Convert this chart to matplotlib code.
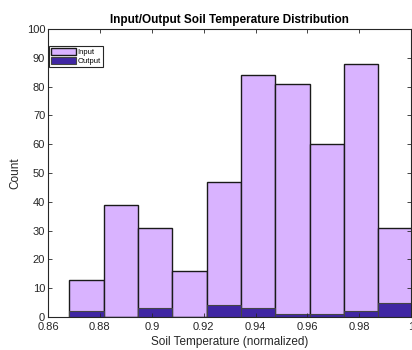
import numpy as np
import matplotlib.pyplot as plt

plt.rcParams['font.family'] = ['Liberation Sans', 'DejaVu Sans']

# === DATA ===
bin_start = 0.8682
bin_width = 0.01323
input_counts = [13, 39, 31, 16, 47, 84, 81, 60, 88, 31]
output_counts = [2, 0, 3, 0, 4, 3, 1, 1, 2, 5]
x_ticks = [0.86, 0.88, 0.90, 0.92, 0.94, 0.96, 0.98, 1.0]
x_tick_labels = ['0.86', '0.88', '0.9', '0.92', '0.94', '0.96', '0.98', '1']
y_ticks = [0, 10, 20, 30, 40, 50, 60, 70, 80, 90, 100]

# === PLOT ===
edges = bin_start + bin_width * np.arange(len(input_counts))

fig = plt.figure(figsize=(4.12, 3.5), dpi=100)
ax = fig.add_axes([0.1165, 0.0943, 0.8815, 0.8227])

ax.bar(edges, input_counts, width=bin_width, align='edge',
       color='#d9b3ff', edgecolor='#1a1a1a', linewidth=1.0, label='Input')
ax.bar(edges, output_counts, width=bin_width, align='edge',
       color='#3f26a3', edgecolor='#444444', linewidth=0.8, label='Output')

ax.set_xlim(0.86, 1.0)
ax.set_ylim(0, 100)
ax.set_xticks(x_ticks)
ax.set_xticklabels(x_tick_labels)
ax.set_yticks(y_ticks)
ax.tick_params(direction='in', top=True, right=True, labelsize=8,
               length=3, width=0.6, color='#262626', labelcolor='#262626')
ax.tick_params(axis='x', pad=3.5)
ax.tick_params(axis='y', pad=2)
for s in ax.spines.values():
    s.set_linewidth(0.8)
    s.set_color('#262626')

ax.set_xlabel('Soil Temperature (normalized)', fontsize=8.5, labelpad=3,
              color='#262626')
ax.set_ylabel('Count', fontsize=8.5, labelpad=4, color='#262626')
ax.set_title('Input/Output Soil Temperature Distribution', fontsize=8.5,
             fontweight='bold', pad=4)

leg = ax.legend(loc='upper left', fontsize=5.5, fancybox=False,
                edgecolor='#262626', framealpha=1, borderpad=0.3,
                handlelength=3.2, handleheight=1.0, handletextpad=0.2,
                labelspacing=0.1, borderaxespad=0.0,
                bbox_to_anchor=(0.003, 0.941))
leg.get_frame().set_linewidth(0.8)

plt.savefig('out.png', dpi=100)
